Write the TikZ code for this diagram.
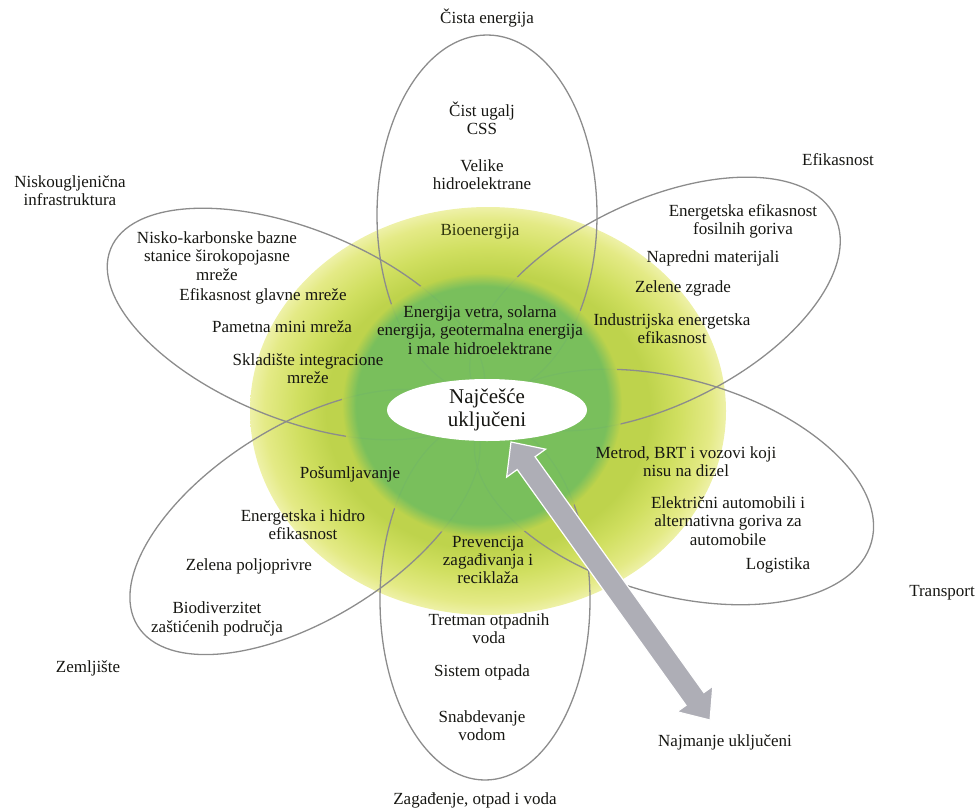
\documentclass[tikz,border=0pt]{standalone}
\usepackage{fontspec}
\setmainfont{Liberation Serif}
\usetikzlibrary{shapes.geometric}
\definecolor{ygC}{RGB}{190,211,76}
\definecolor{ygA}{RGB}{208,223,96}
\definecolor{ygB}{RGB}{228,234,134}
\definecolor{ygD}{RGB}{238,241,168}
\definecolor{grn}{RGB}{116,190,94}
\definecolor{petalc}{RGB}{140,140,140}
\definecolor{arrowc}{RGB}{174,174,182}
\definecolor{txtc}{RGB}{22,22,18}
\definecolor{olivetxt}{RGB}{48,54,14}
\pgfdeclareradialshading{yellowdisc}{\pgfpoint{0bp}{0bp}}{color(0bp)=(ygC); color(17bp)=(ygC); color(20bp)=(ygA); color(23.5bp)=(ygB); color(25bp)=(ygD); color(50bp)=(ygD)}
\pgfdeclareradialshading{greendisc}{\pgfpoint{0bp}{0bp}}{color(0bp)=(grn); color(22.5bp)=(grn); color(25bp)=(ygC); color(50bp)=(ygC)}
\tikzset{
  lbl/.style={align=center, inner sep=0pt, text=txtc, font=\fontsize{17}{18.3}\selectfont},
  petal/.style={draw=petalc, line width=1.3pt},
}
\begin{document}
\begin{tikzpicture}[x=1pt,y=-1pt]
\useasboundingbox (0,0) rectangle (979,809);
% discs
\shade[shading=yellowdisc] (488,411) ellipse [x radius=238, y radius=204];
% petals
\draw[petal] (487,215) ellipse [x radius=110, y radius=180];
\draw[petal] (485,600) ellipse [x radius=105, y radius=180];
\draw[petal, rotate around={-22.1:(296,324)}] (296,324) ellipse [x radius=200, y radius=95];
\draw[petal, rotate around={26:(655,304)}] (655,304) ellipse [x radius=200, y radius=102];
\draw[petal, rotate around={-15.6:(674,487)}] (674,487) ellipse [x radius=205, y radius=108];
\draw[petal, rotate around={31.8:(305,522)}] (305,522) ellipse [x radius=197, y radius=97];
% green core
\shade[shading=greendisc, opacity=0.93] (482,405) ellipse [x radius=140, y radius=132];
% center
\node[ellipse, fill=white, minimum width=200pt, minimum height=62pt, inner sep=0pt,
      font=\fontsize{21}{23}\selectfont, text=txtc, align=center] (core) at (487,410) {Najčešće\\uključeni};
% arrow
\coordinate (aT) at (511,442);
\coordinate (aB) at (710,720);
\begin{scope}[shift={(aT)}, rotate=-54.4]
\filldraw[fill=arrowc, draw=white, line width=1.2pt]
  (0,0) -- (26,24) -- (26,11) -- (316,11) -- (316,22) -- (342,0)
  -- (316,-22) -- (316,-11) -- (26,-11) -- (26,-24) -- cycle;
\end{scope}
% labels
\node[lbl] (t1) at (487,18) {Čista energija};
\node[lbl] (t2) at (482,118) {Čist ugalj\\CSS};
\node[lbl] (t3) at (482,175) {Velike\\hidroelektrane};
\node[lbl, text=olivetxt] (t4) at (480,232) {Bioenergija};
\node[lbl] (e0) at (838,160) {Efikasnost};
\node[lbl] (e1) at (743,221) {Energetska efikasnost\\fosilnih goriva};
\node[lbl] (e2) at (713,258) {Napredni materijali};
\node[lbl] (e3) at (683,288) {Zelene zgrade};
\node[lbl] (e4) at (672,329) {Industrijska energetska\\efikasnost};
\node[lbl] (n0) at (70,191) {Niskougljenična\\infrastruktura};
\node[lbl] (n1) at (217,256) {Nisko-karbonske bazne\\stanice širokopojasne\\mreže};
\node[lbl] (n2) at (263,296) {Efikasnost glavne mreže};
\node[lbl] (n3) at (282,327) {Pametna mini mreža};
\node[lbl] (n4) at (308,369) {Skladište integracione\\mreže};
\node[lbl] (c1) at (480,330) {Energija vetra, solarna\\energija, geotermalna energija\\i male hidroelektrane};
\node[lbl] (r1) at (686,462) {Metrod, BRT i vozovi koji\\nisu na dizel};
\node[lbl] (r2) at (728,521) {Električni automobili i\\alternativna goriva za\\automobile};
\node[lbl] (r3) at (778,565) {Logistika};
\node[lbl] (r0) at (942,593) {Transport};
\node[lbl] (l1) at (350,474) {Pošumljavanje};
\node[lbl] (l2) at (303,525) {Energetska i hidro\\efikasnost};
\node[lbl] (l3) at (249,566) {Zelena poljoprivre};
\node[lbl] (l4) at (217,619) {Biodiverzitet\\zaštićenih područja};
\node[lbl] (l0) at (88,668) {Zemljište};
\node[lbl] (b1) at (488,560) {Prevencija\\zagađivanja i\\reciklaža};
\node[lbl] (b2) at (489,629) {Tretman otpadnih\\voda};
\node[lbl] (b3) at (482,672) {Sistem otpada};
\node[lbl] (b4) at (482,726) {Snabdevanje\\vodom};
\node[lbl] (b0) at (475,800) {Zagađenje, otpad i voda};
\node[lbl] (least) at (725,742) {Najmanje uključeni};
\end{tikzpicture}
\end{document}
